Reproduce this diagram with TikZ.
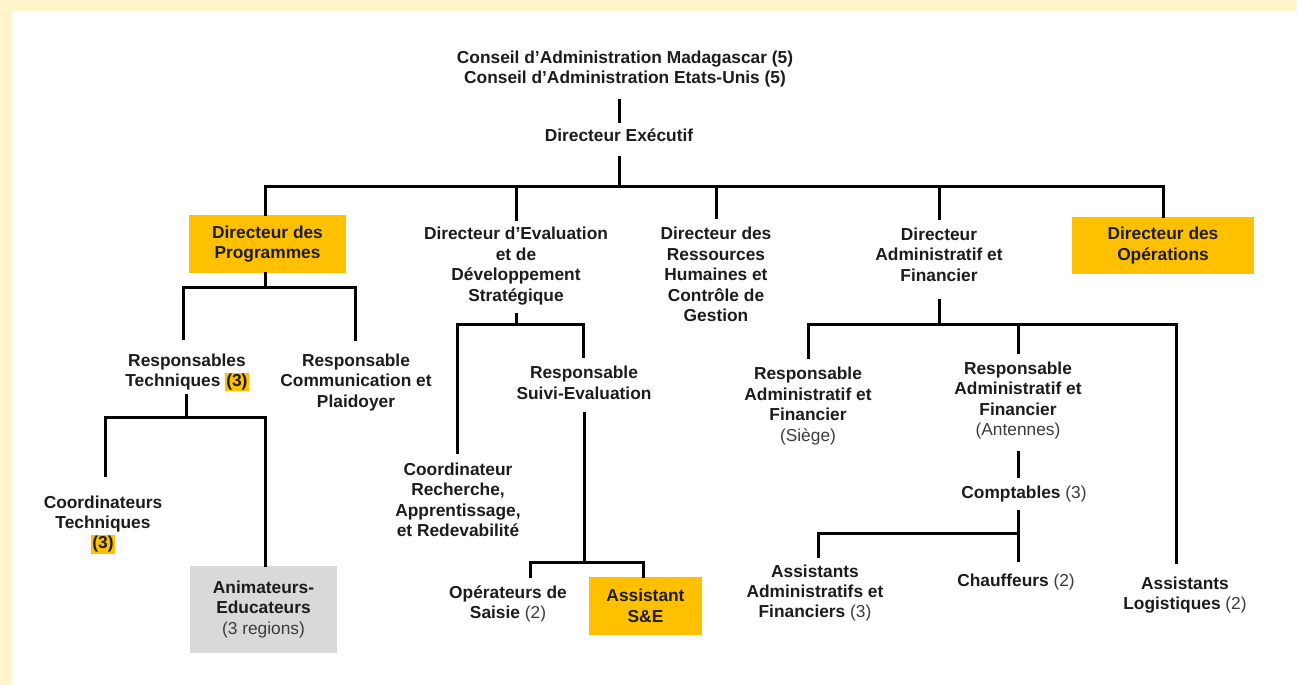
\documentclass[tikz,border=0pt]{standalone}
\usepackage{fontspec}
\setmainfont{Liberation Sans}
\definecolor{bgy}{HTML}{FFF4CB}
\definecolor{gold}{HTML}{FFC000}
\definecolor{boxgray}{HTML}{D9D9D9}
\definecolor{ink}{HTML}{1C1C1C}
\definecolor{soft}{HTML}{3C3C3C}
\newcommand{\hlg}[1]{{\setlength{\fboxsep}{0.8pt}\colorbox{gold}{#1}}}
\newcommand{\rg}[1]{{\mdseries\color{soft}#1}}
\begin{document}
\begin{tikzpicture}[x=0.75pt,y=-0.75pt,
  lbl/.style={inner sep=0pt, align=center, font=\fontsize{13}{15.3}\selectfont\bfseries, text=ink},
  link/.style={line width=2.25pt, draw=black, line cap=rect, line join=miter}
]
\fill[bgy] (0,0) rectangle (1297,685);
\fill[white] (12,11) rectangle (1297,685);
\useasboundingbox (0,0) rectangle (1297,685);

\node[lbl] (board) at (625,69) {Conseil d’Administration Madagascar (5)\\Conseil d’Administration Etats-Unis (5)};
\node[lbl] (de) at (619,135) {Directeur Exécutif};
\node[lbl, fill=gold, minimum width=117.75pt, minimum height=43.5pt] (dp) at (267.5,244) {Directeur des\\Programmes};
\node[lbl] (ev) at (516,266) {Directeur d’Evaluation\\et de\\Développement\\Stratégique};
\node[lbl] (rh) at (716,274.5) {Directeur des\\Ressources\\Humaines et\\Contrôle de\\Gestion};
\node[lbl] (daf) at (939,254.5) {Directeur\\Administratif et\\Financier};
\node[lbl, fill=gold, minimum width=136.5pt, minimum height=42.75pt] (dop) at (1163,245.5) {Directeur des\\Opérations};
\node[lbl] (rt) at (187,372.5) {Responsables\\Techniques \hlg{(3)}};
\node[lbl] (rc) at (356,382.5) {Responsable\\Communication et\\Plaidoyer};
\node[lbl] (ct) at (103,524.5) {Coordinateurs\\Techniques\\\hlg{(3)}};
\node[lbl, fill=boxgray, minimum width=110.25pt, minimum height=65.25pt, text depth=3pt] (ae) at (263.5,609.5) {Animateurs-\\Educateurs\\\rg{(3 regions)}};
\node[lbl] (crar) at (458,500) {Coordinateur\\Recherche,\\Apprentissage,\\et Redevabilité};
\node[lbl] (rse) at (584,383) {Responsable\\Suivi-Evaluation};
\node[lbl] (os) at (508,604) {Opérateurs de\\Saisie \rg{(2)}};
\node[lbl, fill=gold, minimum width=84.75pt, minimum height=43.5pt] (ase) at (645.5,606) {Assistant\\S\&E};
\node[lbl] (rafs) at (808,406) {Responsable\\Administratif et\\Financier\\\rg{(Siège)}};
\node[lbl] (rafa) at (1018,400.5) {Responsable\\Administratif et\\Financier\\\rg{(Antennes)}};
\node[lbl] (comp) at (1024,494) {Comptables \rg{(3)}};
\node[lbl] (aaf) at (815,593) {Assistants\\Administratifs et\\Financiers \rg{(3)}};
\node[lbl] (ch) at (1016,582) {Chauffeurs \rg{(2)}};
\node[lbl] (al) at (1185,595) {Assistants\\Logistiques \rg{(2)}};

\coordinate (bus) at (619,186);
\coordinate (j1) at (265,186); \coordinate (j2) at (516,186); \coordinate (j3) at (716,186);
\coordinate (j4) at (939,186); \coordinate (j5) at (1163,186);
\coordinate (k0) at (265,287); \coordinate (k1) at (183,287); \coordinate (k2) at (355,287);
\coordinate (m0) at (186,417); \coordinate (m1) at (105,417); \coordinate (m2) at (265,417);
\coordinate (e0) at (516,324); \coordinate (e1) at (457,324); \coordinate (e2) at (583,324);
\coordinate (s0) at (584,562); \coordinate (s1) at (530,562); \coordinate (s2) at (643,562);
\coordinate (f0) at (939,324); \coordinate (f1) at (808,324); \coordinate (f2) at (1018,324); \coordinate (f3) at (1176,324);
\coordinate (c0) at (1018,533); \coordinate (c1) at (818,533);

\draw[link, shorten <=10pt, shorten >=5pt] (de.north |- board.south) -- (de.north);
\draw[link, shorten <=12pt] (de.south) -- (bus);
\draw[link] (j1) -- (j5);
\draw[link] (j1) -- (j1 |- dp.north);
\draw[link, shorten >=6pt] (j2) -- (j2 |- ev.north);
\draw[link, shorten >=7.5pt] (j3) -- (j3 |- rh.north);
\draw[link, shorten >=6.75pt] (j4) -- (j4 |- daf.north);
\draw[link] (j5) -- (j5 |- dop.north);
\draw[link] (k0 |- dp.south) -- (k0);
\draw[link, shorten <=11pt, shorten >=11pt] (k1 |- rt.north) -- (k1) -- (k2) -- (k2 |- rc.north);
\draw[link, shorten <=3pt] (m0 |- rt.south) -- (m0);
\draw[link, shorten <=15pt] (m1 |- ct.north) -- (m1) -- (m2) -- (m2 |- ae.north);
\draw[link, shorten <=7pt] (e0 |- ev.south) -- (e0);
\draw[link, shorten <=8pt, shorten >=7pt] (e1 |- crar.north) -- (e1) -- (e2) -- (e2 |- rse.north);
\draw[link, shorten <=10pt] (s0 |- rse.south) -- (s0);
\draw[link, shorten <=7pt] (s1 |- os.north) -- (s1) -- (s2) -- (s2 |- ase.north);
\draw[link, shorten <=14pt] (f0 |- daf.south) -- (f0);
\draw[link, shorten <=7.5pt, shorten >=10.5pt] (f1 |- rafs.north) -- (f1) -- (f3) -- (f3 |- al.north);
\draw[link, shorten >=7pt] (f2) -- (f2 |- rafa.north);
\draw[link, shorten <=9.5pt, shorten >=7pt] (f2 |- rafa.south) -- (f2 |- comp.north);
\draw[link, shorten <=7pt, shorten >=10pt] (f2 |- comp.south) -- (f2 |- ch.north);
\draw[link, shorten >=6pt] (c0) -- (c1) -- (c1 |- aaf.north);
\end{tikzpicture}
\end{document}
